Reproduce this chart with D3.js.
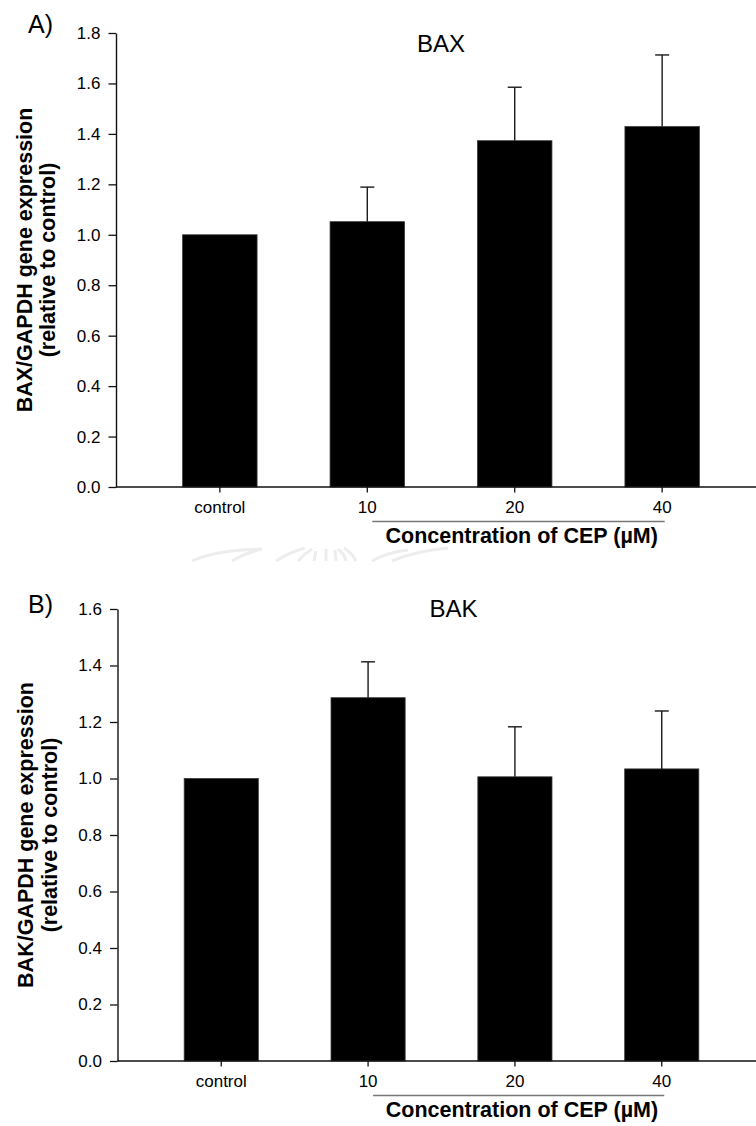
<!DOCTYPE html>
<html>
<head>
<meta charset="utf-8">
<script src="https://cdn.jsdelivr.net/npm/d3@7"></script>
<style>
  html, body { margin: 0; padding: 0; background: #fff; }
  svg { display: block; }
  text { font-family: "Liberation Sans", Arial, sans-serif; fill: #000; }
</style>
</head>
<body>
<svg id="chart" width="756" height="1126"></svg>
<script>
// Treatment groups (CEP concentration in µM)
const categories = ["control", "10", "20", "40"];

// BAX/GAPDH expression relative to control, mean and SD
const baxMean = [1.0, 1.052, 1.373, 1.429];
const baxErr  = [0, 0.137, 0.212, 0.284];
const baxTicks = [0, 0.2, 0.4, 0.6, 0.8, 1.0, 1.2, 1.4, 1.6, 1.8];

// BAK/GAPDH expression relative to control, mean and SD
const bakMean = [1.0, 1.286, 1.006, 1.034];
const bakErr  = [0, 0.127, 0.177, 0.205];
const bakTicks = [0, 0.2, 0.4, 0.6, 0.8, 1.0, 1.2, 1.4, 1.6];

const svg = d3.select("#chart");
const W = 756;

function drawPanel(opt) {
  const g = svg.append("g");
  const y = d3.scaleLinear().domain([0, opt.yMax]).range([opt.y0, opt.yTop]);
  const x = d3.scaleBand().domain(categories)
    .range(opt.xRange).paddingInner(0.495).paddingOuter(0.2525);

  // bars
  g.selectAll("rect.bar").data(categories).join("rect")
    .attr("class", "bar")
    .attr("x", d => x(d))
    .attr("width", x.bandwidth())
    .attr("y", (d, i) => y(opt.mean[i]))
    .attr("height", (d, i) => y(0) - y(opt.mean[i]))
    .attr("fill", "#000")
    .attr("stroke", "#3a3a3a")
    .attr("stroke-width", 0.8);

  // upper error bars
  const eb = g.selectAll("g.err").data(categories.filter((d, i) => opt.err[i] > 0)).join("g")
    .attr("class", "err");
  const top = d => { const i = categories.indexOf(d); return y(opt.mean[i] + opt.err[i]); };
  eb.append("line")
    .attr("x1", d => x(d) + x.bandwidth() / 2)
    .attr("x2", d => x(d) + x.bandwidth() / 2)
    .attr("y1", d => y(opt.mean[categories.indexOf(d)]))
    .attr("y2", top)
    .attr("stroke", "#1a1a1a").attr("stroke-width", 1.4);
  eb.append("line")
    .attr("x1", d => x(d) + x.bandwidth() / 2 - 7)
    .attr("x2", d => x(d) + x.bandwidth() / 2 + 7)
    .attr("y1", top)
    .attr("y2", top)
    .attr("stroke", "#1a1a1a").attr("stroke-width", 1.4);

  // y axis
  const yAxis = d3.axisLeft(y).tickValues(opt.ticks).tickFormat(d3.format(".1f"))
    .tickSize(7.5).tickPadding(8).tickSizeOuter(0);
  const ya = g.append("g").attr("transform", `translate(${opt.axisX},0)`).call(yAxis);
  ya.select(".domain").attr("stroke", "#111").attr("stroke-width", 1.4);
  ya.selectAll(".tick line").attr("stroke", "#111").attr("stroke-width", 1.3);
  ya.selectAll(".tick text").attr("font-size", "17px")
    .attr("font-family", "'Liberation Sans', Arial, sans-serif").attr("fill", "#111");

  // x axis
  const xAxis = d3.axisBottom(x).tickSize(5.5).tickPadding(8).tickSizeOuter(0);
  const xa = g.append("g").attr("transform", `translate(0,${opt.y0})`).call(xAxis);
  xa.select(".domain").remove();
  xa.selectAll(".tick line").attr("stroke", "#111").attr("stroke-width", 1.3);
  xa.selectAll(".tick text").attr("font-size", "17px")
    .attr("font-family", "'Liberation Sans', Arial, sans-serif").attr("fill", "#111");
  g.append("line")
    .attr("x1", opt.axisX).attr("x2", W)
    .attr("y1", opt.y0).attr("y2", opt.y0)
    .attr("stroke", "#111").attr("stroke-width", 1.4);

  // bracket under treated groups
  const cx = d => x(d) + x.bandwidth() / 2;
  g.append("line")
    .attr("x1", cx("10") + 5).attr("x2", cx("40") + 2.5)
    .attr("y1", opt.y0 + 34.5).attr("y2", opt.y0 + 34.5)
    .attr("stroke", "#777").attr("stroke-width", 1.3);
  g.append("text")
    .attr("x", (cx("10") + cx("40")) / 2 + 7)
    .attr("y", opt.y0 + 56)
    .attr("text-anchor", "middle")
    .attr("font-weight", "bold")
    .attr("font-size", "21.5px")
    .text("Concentration of CEP (µM)");

  // gene title
  g.append("text")
    .attr("x", opt.titleX).attr("y", opt.titleY)
    .attr("font-size", "24px")
    .text(opt.title);

  // panel letter
  g.append("text")
    .attr("x", 28).attr("y", opt.letterY)
    .attr("font-family", "'Open Sans', 'Noto Sans', sans-serif")
    .attr("font-size", "25px")
    .text(opt.letter);

  // y axis title (two lines)
  const yc = (opt.y0 + opt.yTop) / 2;
  const yl = g.append("text")
    .attr("transform", `translate(0,${yc}) rotate(-90)`)
    .attr("text-anchor", "middle")
    .attr("font-weight", "bold")
    .attr("font-size", "21.5px");
  yl.append("tspan").attr("x", 0).attr("y", opt.labelX1).text(opt.ylabel);
  yl.append("tspan").attr("x", 0).attr("y", opt.labelX1 + 23.5).text("(relative to control)");
}

// faint seal watermark between the panels
const wm = svg.append("g").attr("fill", "none").attr("stroke", "#ededed").attr("stroke-width", 3);
[
  "M192,561 Q215,550 262,549", "M262,549 Q245,553 232,561",
  "M276,561 Q290,552 305,548", "M298,561 Q304,554 312,549",
  "M314,561 L316,551", "M326,561 L326,549", "M336,561 L335,550",
  "M346,561 Q344,553 338,549", "M356,561 Q352,553 344,548",
  "M372,561 Q385,553 408,550", "M392,561 Q415,551 448,548"
].forEach(p => wm.append("path").attr("d", p));

drawPanel({
  mean: baxMean, err: baxErr, ticks: baxTicks, yMax: 1.8,
  y0: 487, yTop: 33, axisX: 116, xRange: [145.4, 736.6],
  title: "BAX", titleX: 417, titleY: 51.5,
  letter: "A)", letterY: 33,
  ylabel: "BAX/GAPDH gene expression", labelX1: 31.5
});

drawPanel({
  mean: bakMean, err: bakErr, ticks: bakTicks, yMax: 1.6,
  y0: 1061, yTop: 609, axisX: 117.5, xRange: [147.1, 735.9],
  title: "BAK", titleX: 429.5, titleY: 616.5,
  letter: "B)", letterY: 612.5,
  ylabel: "BAK/GAPDH gene expression", labelX1: 33
});
</script>
</body>
</html>
